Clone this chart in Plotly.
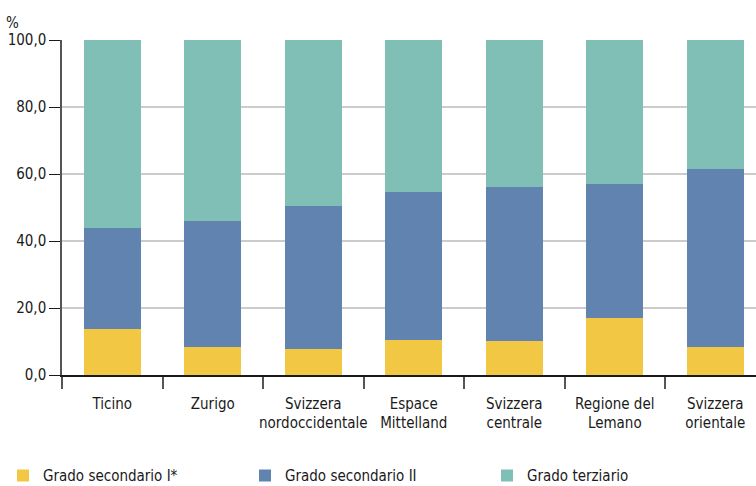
import plotly.graph_objects as go

categories = ["Ticino", "Zurigo", "Svizzera<br>nordoccidentale", "Espace<br>Mittelland",
              "Svizzera<br>centrale", "Regione del<br>Lemano", "Svizzera<br>orientale"]
sec1 = [13.7, 8.4, 7.7, 10.4, 10.1, 17.0, 8.4]
sec2 = [30.2, 37.7, 42.8, 44.2, 46.1, 40.1, 53.1]
terz = [56.1, 53.9, 49.5, 45.4, 43.8, 42.9, 38.5]
series_names = ["Grado secondario I*", "Grado secondario II", "Grado terziario"]
colors = ["#F2C744", "#6183B0", "#80BFB5"]
yticks = [0, 20, 40, 60, 80, 100]

FONT = "DejaVu Sans Condensed"
FS = 15

def f(size=FS):
    return dict(family=FONT, size=size, color="#1a1a1a")

fig = go.Figure()
for name, vals, col in zip(series_names, [sec1, sec2, terz], colors):
    fig.add_trace(go.Bar(x=categories, y=vals, name=name, marker_color=col,
                         marker_line_width=0, width=0.567))

fig.update_layout(
    barmode="stack",
    width=756, height=486,
    margin=dict(l=62, r=0, t=40, b=111, autoexpand=False),
    plot_bgcolor="white", paper_bgcolor="white",
    separators=",.",
    font=f(),
    showlegend=True,
    legend=dict(orientation="h", x=-0.085, xanchor="left", y=-0.301, yanchor="middle",
                entrywidth=197, entrywidthmode="pixels", traceorder="normal",
                font=f()),
)
fig.update_xaxes(
    range=[-0.5, 6.405], ticks="outside", tickson="boundaries", ticklen=12,
    tickcolor="#555555", tickwidth=1.5, showline=True, linecolor="#1a1a1a", linewidth=1.5,
    showgrid=False, tickfont=f(), tickangle=0, automargin=False, ticklabelstandoff=14,
)
fig.update_yaxes(
    range=[0, 100], tickvals=yticks, tickformat=".1f", ticks="outside", ticklen=11,
    tickcolor="#1a1a1a", tickwidth=1.2, showline=True, linecolor="#555555", linewidth=1.5,
    showgrid=True, gridcolor="#cccccc", gridwidth=1.5, zeroline=False,
    tickfont=f(), automargin=False,
)
fig.add_annotation(text="%", xref="paper", yref="paper", x=-0.072, y=1.051,
                   xanchor="center", yanchor="middle", showarrow=False,
                   font=f())
fig.write_html("out.html")
